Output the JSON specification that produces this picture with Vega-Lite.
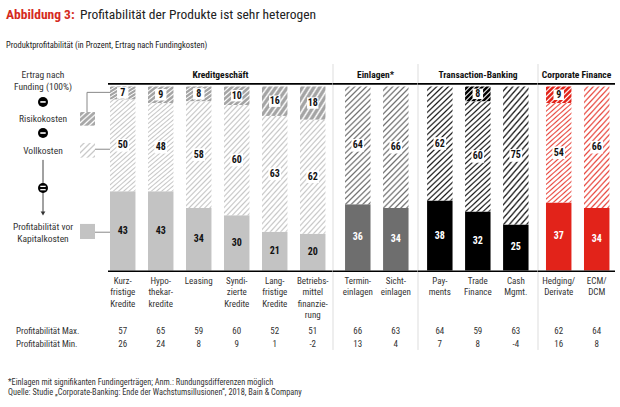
{
 "$schema": "https://vega.github.io/schema/vega-lite/v6.json",
 "padding": 0,
 "spacing": 0,
 "bounds": "flush",
 "background": "white",
 "config": {"view": {"stroke": null}, "font": "Liberation Sans Narrow, Roboto Condensed, Roboto"},
 "datasets": {
  "products": [
   {"group":"Kreditgeschäft","product":"Kurzfristige Kredite","label":"Kurz-|fristige|Kredite","profit":43,"voll":50,"risk":7,"max":57,"min":26},
   {"group":"Kreditgeschäft","product":"Hypothekarkredite","label":"Hypo-|thekar-|kredite","profit":43,"voll":48,"risk":9,"max":65,"min":24},
   {"group":"Kreditgeschäft","product":"Leasing","label":"Leasing","profit":34,"voll":58,"risk":8,"max":59,"min":8},
   {"group":"Kreditgeschäft","product":"Syndizierte Kredite","label":"Syndi-|zierte|Kredite","profit":30,"voll":60,"risk":10,"max":60,"min":9},
   {"group":"Kreditgeschäft","product":"Langfristige Kredite","label":"Lang-|fristige|Kredite","profit":21,"voll":63,"risk":16,"max":52,"min":1},
   {"group":"Kreditgeschäft","product":"Betriebsmittelfinanzierung","label":"Betriebs-|mittel|finanzie-|rung","profit":20,"voll":62,"risk":18,"max":51,"min":-2},
   {"group":"Einlagen","product":"Termineinlagen","label":"Termin-|einlagen","profit":36,"voll":64,"risk":0,"max":66,"min":13},
   {"group":"Einlagen","product":"Sichteinlagen","label":"Sicht-|einlagen","profit":34,"voll":66,"risk":0,"max":63,"min":4},
   {"group":"Transaction-Banking","product":"Payments","label":"Pay-|ments","profit":38,"voll":62,"risk":0,"max":64,"min":7},
   {"group":"Transaction-Banking","product":"Trade Finance","label":"Trade|Finance","profit":32,"voll":60,"risk":8,"max":59,"min":8},
   {"group":"Transaction-Banking","product":"Cash Mgmt.","label":"Cash|Mgmt.","profit":25,"voll":75,"risk":0,"max":63,"min":-4},
   {"group":"Corporate Finance","product":"Hedging/Derivate","label":"Hedging/|Derivate","profit":37,"voll":54,"risk":9,"max":62,"min":16},
   {"group":"Corporate Finance","product":"ECM/DCM","label":"ECM/|DCM","profit":34,"voll":66,"risk":0,"max":64,"min":8}
  ]
 },
 "hconcat": [
  {
   "width": 108, "height": 407,
   "data": {"values": [{}]},
   "layer": [
    {"mark": {"type":"text","text":"Abbildung 3:","align":"left","baseline":"middle","fontSize":13.5,"fontWeight":"bold","fill":"#d52b1e"},
     "encoding": {"x": {"datum": 6, "type":"quantitative","scale":{"domain":[0,108],"nice":false,"zero":false},"axis":null},
                  "y": {"datum": 138.9, "type":"quantitative","scale":{"domain":[-74.2,147],"nice":false,"zero":false},"axis":null}}},
    {"mark": {"type":"text","text":"Profitabilität der Produkte ist sehr heterogen","align":"left","baseline":"middle","fontSize":13.5,"fill":"#222"},
     "encoding": {"x": {"datum": 80, "type":"quantitative","scale":{"domain":[0,108],"nice":false,"zero":false},"axis":null},
                  "y": {"datum": 138.9, "type":"quantitative","scale":{"domain":[-74.2,147],"nice":false,"zero":false},"axis":null}}},
    {"mark": {"type":"text","text":"Produktprofitabilität (in Prozent, Ertrag nach Fundingkosten)","align":"left","baseline":"middle","fontSize":8.5,"fill":"#222"},
     "encoding": {"x": {"datum": 6, "type":"quantitative","scale":{"domain":[0,108],"nice":false,"zero":false},"axis":null},
                  "y": {"datum": 122.6, "type":"quantitative","scale":{"domain":[-74.2,147],"nice":false,"zero":false},"axis":null}}},
    {"mark": {"type":"text","text":["Ertrag nach","Funding (100%)"],"align":"center","baseline":"middle","fontSize":9.5,"lineHeight":12,"fill":"#333"},
     "encoding": {"x": {"datum": 43, "type":"quantitative","scale":{"domain":[0,108],"nice":false,"zero":false},"axis":null},
                  "y": {"datum": 106.3, "type":"quantitative","scale":{"domain":[-74.2,147],"nice":false,"zero":false},"axis":null}}},
    {"mark": {"type":"rule","stroke":"#444","strokeWidth":1},
     "encoding": {"x": {"datum": 43, "type":"quantitative","scale":{"domain":[0,108],"nice":false,"zero":false},"axis":null},
                  "y": {"datum": 60.1, "type":"quantitative","scale":{"domain":[-74.2,147],"nice":false,"zero":false},"axis":null},
                  "y2": {"datum": 31.8}}},
    {"mark": {"type":"point","shape":"triangle-down","filled":true,"fill":"#333","size":22,"opacity":1},
     "encoding": {"x": {"datum": 43, "type":"quantitative","scale":{"domain":[0,108],"nice":false,"zero":false},"axis":null},
                  "y": {"datum": 31.0, "type":"quantitative","scale":{"domain":[-74.2,147],"nice":false,"zero":false},"axis":null}}},
    {"mark": {"type":"point","shape":"circle","filled":true,"fill":"#000","size":100,"opacity":1},
     "encoding": {"x": {"datum": 43, "type":"quantitative","scale":{"domain":[0,108],"nice":false,"zero":false},"axis":null},
                  "y": {"datum": 91.6, "type":"quantitative","scale":{"domain":[-74.2,147],"nice":false,"zero":false},"axis":null}}},
    {"mark": {"type":"point","shape":"circle","filled":true,"fill":"#000","size":100,"opacity":1},
     "encoding": {"x": {"datum": 43, "type":"quantitative","scale":{"domain":[0,108],"nice":false,"zero":false},"axis":null},
                  "y": {"datum": 74.7, "type":"quantitative","scale":{"domain":[-74.2,147],"nice":false,"zero":false},"axis":null}}},
    {"mark": {"type":"point","shape":"circle","filled":true,"fill":"#000","size":100,"opacity":1},
     "encoding": {"x": {"datum": 43, "type":"quantitative","scale":{"domain":[0,108],"nice":false,"zero":false},"axis":null},
                  "y": {"datum": 44.8, "type":"quantitative","scale":{"domain":[-74.2,147],"nice":false,"zero":false},"axis":null}}},
    {"mark": {"type":"rule","stroke":"#fff","strokeWidth":1.6},
     "encoding": {"x": {"datum": 40.3, "type":"quantitative","scale":{"domain":[0,108],"nice":false,"zero":false},"axis":null},
                  "x2": {"datum": 45.7},
                  "y": {"datum": 91.6, "type":"quantitative","scale":{"domain":[-74.2,147],"nice":false,"zero":false},"axis":null}}},
    {"mark": {"type":"rule","stroke":"#fff","strokeWidth":1.6},
     "encoding": {"x": {"datum": 40.3, "type":"quantitative","scale":{"domain":[0,108],"nice":false,"zero":false},"axis":null},
                  "x2": {"datum": 45.7},
                  "y": {"datum": 74.7, "type":"quantitative","scale":{"domain":[-74.2,147],"nice":false,"zero":false},"axis":null}}},
    {"mark": {"type":"rule","stroke":"#fff","strokeWidth":1.3},
     "encoding": {"x": {"datum": 40.3, "type":"quantitative","scale":{"domain":[0,108],"nice":false,"zero":false},"axis":null},
                  "x2": {"datum": 45.7},
                  "y": {"datum": 45.7, "type":"quantitative","scale":{"domain":[-74.2,147],"nice":false,"zero":false},"axis":null}}},
    {"mark": {"type":"rule","stroke":"#fff","strokeWidth":1.3},
     "encoding": {"x": {"datum": 40.3, "type":"quantitative","scale":{"domain":[0,108],"nice":false,"zero":false},"axis":null},
                  "x2": {"datum": 45.7},
                  "y": {"datum": 43.9, "type":"quantitative","scale":{"domain":[-74.2,147],"nice":false,"zero":false},"axis":null}}},
    {"mark": {"type":"text","text":"Risikokosten","align":"center","baseline":"middle","fontSize":9.5,"fill":"#333"},
     "encoding": {"x": {"datum": 43, "type":"quantitative","scale":{"domain":[0,108],"nice":false,"zero":false},"axis":null},
                  "y": {"datum": 82.3, "type":"quantitative","scale":{"domain":[-74.2,147],"nice":false,"zero":false},"axis":null}}},
    {"mark": {"type":"text","text":"Vollkosten","align":"center","baseline":"middle","fontSize":9.5,"fill":"#333"},
     "encoding": {"x": {"datum": 43, "type":"quantitative","scale":{"domain":[0,108],"nice":false,"zero":false},"axis":null},
                  "y": {"datum": 64.9, "type":"quantitative","scale":{"domain":[-74.2,147],"nice":false,"zero":false},"axis":null}}},
    {"mark": {"type":"text","text":["Profitabilität vor","Kapitalkosten"],"align":"center","baseline":"middle","fontSize":9.5,"lineHeight":12,"fill":"#333"},
     "encoding": {"x": {"datum": 43, "type":"quantitative","scale":{"domain":[0,108],"nice":false,"zero":false},"axis":null},
                  "y": {"datum": 23.6, "type":"quantitative","scale":{"domain":[-74.2,147],"nice":false,"zero":false},"axis":null}}},
    {"mark": {"type":"rect","fill":{"gradient":"linear","x1":0,"y1":0,"x2":1,"y2":1,"stops":[
       {"offset":0,"color":"#fff"},{"offset":0.06,"color":"#a8a8a8"},{"offset":0.14,"color":"#a8a8a8"},
       {"offset":0.2,"color":"#fff"},{"offset":0.26,"color":"#a8a8a8"},{"offset":0.34,"color":"#a8a8a8"},
       {"offset":0.4,"color":"#fff"},{"offset":0.46,"color":"#a8a8a8"},{"offset":0.54,"color":"#a8a8a8"},
       {"offset":0.6,"color":"#fff"},{"offset":0.66,"color":"#a8a8a8"},{"offset":0.74,"color":"#a8a8a8"},
       {"offset":0.8,"color":"#fff"},{"offset":0.86,"color":"#a8a8a8"},{"offset":0.94,"color":"#a8a8a8"},
       {"offset":1,"color":"#fff"}]}},
     "encoding": {"x": {"datum": 80, "type":"quantitative","scale":{"domain":[0,108],"nice":false,"zero":false},"axis":null},
                  "x2": {"datum": 95},
                  "y": {"datum": 86.1, "type":"quantitative","scale":{"domain":[-74.2,147],"nice":false,"zero":false},"axis":null},
                  "y2": {"datum": 78.7}}},
    {"mark": {"type":"rect","fill":{"gradient":"linear","x1":0,"y1":0,"x2":1,"y2":1,"stops":[
       {"offset":0,"color":"#fff"},{"offset":0.08,"color":"#fff"},{"offset":0.14,"color":"#c8c8c8"},
       {"offset":0.2,"color":"#fff"},{"offset":0.28,"color":"#fff"},{"offset":0.34,"color":"#c8c8c8"},
       {"offset":0.4,"color":"#fff"},{"offset":0.48,"color":"#fff"},{"offset":0.54,"color":"#c8c8c8"},
       {"offset":0.6,"color":"#fff"},{"offset":0.68,"color":"#fff"},{"offset":0.74,"color":"#c8c8c8"},
       {"offset":0.8,"color":"#fff"},{"offset":0.88,"color":"#fff"},{"offset":0.94,"color":"#c8c8c8"},
       {"offset":1,"color":"#fff"}]}},
     "encoding": {"x": {"datum": 80, "type":"quantitative","scale":{"domain":[0,108],"nice":false,"zero":false},"axis":null},
                  "x2": {"datum": 95},
                  "y": {"datum": 69.3, "type":"quantitative","scale":{"domain":[-74.2,147],"nice":false,"zero":false},"axis":null},
                  "y2": {"datum": 61.3}}},
    {"mark": {"type":"rect","fill":"#c3c3c3"},
     "encoding": {"x": {"datum": 80, "type":"quantitative","scale":{"domain":[0,108],"nice":false,"zero":false},"axis":null},
                  "x2": {"datum": 95},
                  "y": {"datum": 25.3, "type":"quantitative","scale":{"domain":[-74.2,147],"nice":false,"zero":false},"axis":null},
                  "y2": {"datum": 17.1}}},
    {"mark": {"type":"rule","stroke":"#888","strokeWidth":1},
     "encoding": {"x": {"datum": 87, "type":"quantitative","scale":{"domain":[0,108],"nice":false,"zero":false},"axis":null},
                  "y": {"datum": 86.1, "type":"quantitative","scale":{"domain":[-74.2,147],"nice":false,"zero":false},"axis":null},
                  "y2": {"datum": 96.8}}},
    {"mark": {"type":"rule","stroke":"#888","strokeWidth":1},
     "encoding": {"x": {"datum": 87, "type":"quantitative","scale":{"domain":[0,108],"nice":false,"zero":false},"axis":null},
                  "x2": {"datum": 110},
                  "y": {"datum": 96.8, "type":"quantitative","scale":{"domain":[-74.2,147],"nice":false,"zero":false},"axis":null}}},
    {"mark": {"type":"rule","stroke":"#888","strokeWidth":1},
     "encoding": {"x": {"datum": 95, "type":"quantitative","scale":{"domain":[0,108],"nice":false,"zero":false},"axis":null},
                  "x2": {"datum": 110},
                  "y": {"datum": 65.9, "type":"quantitative","scale":{"domain":[-74.2,147],"nice":false,"zero":false},"axis":null}}},
    {"mark": {"type":"rule","stroke":"#888","strokeWidth":1},
     "encoding": {"x": {"datum": 95, "type":"quantitative","scale":{"domain":[0,108],"nice":false,"zero":false},"axis":null},
                  "x2": {"datum": 110},
                  "y": {"datum": 20.8, "type":"quantitative","scale":{"domain":[-74.2,147],"nice":false,"zero":false},"axis":null}}},
    {"mark": {"type":"text","text":"Profitabilität Max.","align":"left","baseline":"middle","fontSize":9,"fill":"#333"},
     "encoding": {"x": {"datum": 16, "type":"quantitative","scale":{"domain":[0,108],"nice":false,"zero":false},"axis":null},
                  "y": {"datum": -32.9, "type":"quantitative","scale":{"domain":[-74.2,147],"nice":false,"zero":false},"axis":null}}},
    {"mark": {"type":"text","text":"Profitabilität Min.","align":"left","baseline":"middle","fontSize":9,"fill":"#333"},
     "encoding": {"x": {"datum": 16, "type":"quantitative","scale":{"domain":[0,108],"nice":false,"zero":false},"axis":null},
                  "y": {"datum": -39.7, "type":"quantitative","scale":{"domain":[-74.2,147],"nice":false,"zero":false},"axis":null}}},
    {"mark": {"type":"text","text":"*Einlagen mit signifikanten Fundingerträgen; Anm.: Rundungsdifferenzen möglich","align":"left","baseline":"middle","fontSize":8.3,"fill":"#333"},
     "encoding": {"x": {"datum": 8, "type":"quantitative","scale":{"domain":[0,108],"nice":false,"zero":false},"axis":null},
                  "y": {"datum": -61.0, "type":"quantitative","scale":{"domain":[-74.2,147],"nice":false,"zero":false},"axis":null}}},
    {"mark": {"type":"text","text":"Quelle: Studie „Corporate-Banking: Ende der Wachstumsillusionen“, 2018, Bain & Company","align":"left","baseline":"middle","fontSize":8.3,"fill":"#333"},
     "encoding": {"x": {"datum": 8, "type":"quantitative","scale":{"domain":[0,108],"nice":false,"zero":false},"axis":null},
                  "y": {"datum": -66.7, "type":"quantitative","scale":{"domain":[-74.2,147],"nice":false,"zero":false},"axis":null}}}
   ]
  },
  {
   "width": 225, "height": 407,
   "layer": [
    {
     "data": {"name": "products"},
     "transform": [
      {"filter": "datum.group === 'Kreditgeschäft'"},
      {"calculate": "datum.profit + datum.voll", "as": "vollTop"},
      {"calculate": "datum.profit + datum.voll + datum.risk", "as": "riskTop"},
      {"calculate": "datum.profit / 2", "as": "profitMid"},
      {"calculate": "datum.profit + datum.voll / 2", "as": "vollMid"},
      {"calculate": "datum.profit + datum.voll + datum.risk / 2", "as": "riskMid"}
     ],
     "encoding": {"x": {"field":"product","type":"nominal","sort":null,"axis":null,"scale":{"paddingInner":0.33,"paddingOuter":0.1255,"align":0.21}}},
     "layer": [
      {"mark": {"type":"bar","fill":"#c3c3c3"},
       "encoding": {"y": {"field":"profit","type":"quantitative","scale":{"domain":[-74.2,147],"nice":false,"zero":false},"axis":null},"y2": {"datum": 0}}},
      {"mark": {"type":"bar","fill":{"gradient":"linear","x1":0,"y1":0,"x2":0.286,"y2":1.174,"stops":[
        {"offset":0,"color":"#fff"},{"offset":0.016,"color":"#fff"},{"offset":0.028,"color":"#c6c6c6"},
        {"offset":0.04,"color":"#fff"},{"offset":0.056,"color":"#fff"},{"offset":0.068,"color":"#c6c6c6"},
        {"offset":0.08,"color":"#fff"},{"offset":0.096,"color":"#fff"},{"offset":0.108,"color":"#c6c6c6"},
        {"offset":0.12,"color":"#fff"},{"offset":0.136,"color":"#fff"},{"offset":0.148,"color":"#c6c6c6"},
        {"offset":0.16,"color":"#fff"},{"offset":0.176,"color":"#fff"},{"offset":0.188,"color":"#c6c6c6"},
        {"offset":0.2,"color":"#fff"},{"offset":0.216,"color":"#fff"},{"offset":0.228,"color":"#c6c6c6"},
        {"offset":0.24,"color":"#fff"},{"offset":0.256,"color":"#fff"},{"offset":0.268,"color":"#c6c6c6"},
        {"offset":0.28,"color":"#fff"},{"offset":0.296,"color":"#fff"},{"offset":0.308,"color":"#c6c6c6"},
        {"offset":0.32,"color":"#fff"},{"offset":0.336,"color":"#fff"},{"offset":0.348,"color":"#c6c6c6"},
        {"offset":0.36,"color":"#fff"},{"offset":0.376,"color":"#fff"},{"offset":0.388,"color":"#c6c6c6"},
        {"offset":0.4,"color":"#fff"},{"offset":0.416,"color":"#fff"},{"offset":0.428,"color":"#c6c6c6"},
        {"offset":0.44,"color":"#fff"},{"offset":0.456,"color":"#fff"},{"offset":0.468,"color":"#c6c6c6"},
        {"offset":0.48,"color":"#fff"},{"offset":0.496,"color":"#fff"},{"offset":0.508,"color":"#c6c6c6"},
        {"offset":0.52,"color":"#fff"},{"offset":0.536,"color":"#fff"},{"offset":0.548,"color":"#c6c6c6"},
        {"offset":0.56,"color":"#fff"},{"offset":0.576,"color":"#fff"},{"offset":0.588,"color":"#c6c6c6"},
        {"offset":0.6,"color":"#fff"},{"offset":0.616,"color":"#fff"},{"offset":0.628,"color":"#c6c6c6"},
        {"offset":0.64,"color":"#fff"},{"offset":0.656,"color":"#fff"},{"offset":0.668,"color":"#c6c6c6"},
        {"offset":0.68,"color":"#fff"},{"offset":0.696,"color":"#fff"},{"offset":0.708,"color":"#c6c6c6"},
        {"offset":0.72,"color":"#fff"},{"offset":0.736,"color":"#fff"},{"offset":0.748,"color":"#c6c6c6"},
        {"offset":0.76,"color":"#fff"},{"offset":0.776,"color":"#fff"},{"offset":0.788,"color":"#c6c6c6"},
        {"offset":0.8,"color":"#fff"},{"offset":0.816,"color":"#fff"},{"offset":0.828,"color":"#c6c6c6"},
        {"offset":0.84,"color":"#fff"},{"offset":0.856,"color":"#fff"},{"offset":0.868,"color":"#c6c6c6"},
        {"offset":0.88,"color":"#fff"},{"offset":0.896,"color":"#fff"},{"offset":0.908,"color":"#c6c6c6"},
        {"offset":0.92,"color":"#fff"},{"offset":0.936,"color":"#fff"},{"offset":0.948,"color":"#c6c6c6"},
        {"offset":0.96,"color":"#fff"},{"offset":0.976,"color":"#fff"},{"offset":0.988,"color":"#c6c6c6"},
        {"offset":1,"color":"#fff"}]}},
       "encoding": {"y": {"field":"vollTop","type":"quantitative","scale":{"domain":[-74.2,147],"nice":false,"zero":false},"axis":null},"y2": {"field":"profit"}}},
      {"mark": {"type":"bar","fill":{"gradient":"linear","x1":0,"y1":0,"x2":1.09,"y2":0.89,"stops":[
        {"offset":0,"color":"#fff"},{"offset":0.0375,"color":"#a4a4a4"},{"offset":0.0875,"color":"#a4a4a4"},
        {"offset":0.125,"color":"#fff"},{"offset":0.1625,"color":"#a4a4a4"},{"offset":0.2125,"color":"#a4a4a4"},
        {"offset":0.25,"color":"#fff"},{"offset":0.2875,"color":"#a4a4a4"},{"offset":0.3375,"color":"#a4a4a4"},
        {"offset":0.375,"color":"#fff"},{"offset":0.4125,"color":"#a4a4a4"},{"offset":0.4625,"color":"#a4a4a4"},
        {"offset":0.5,"color":"#fff"},{"offset":0.5375,"color":"#a4a4a4"},{"offset":0.5875,"color":"#a4a4a4"},
        {"offset":0.625,"color":"#fff"},{"offset":0.6625,"color":"#a4a4a4"},{"offset":0.7125,"color":"#a4a4a4"},
        {"offset":0.75,"color":"#fff"},{"offset":0.7875,"color":"#a4a4a4"},{"offset":0.8375,"color":"#a4a4a4"},
        {"offset":0.875,"color":"#fff"},{"offset":0.9125,"color":"#a4a4a4"},{"offset":0.9625,"color":"#a4a4a4"},
        {"offset":1,"color":"#fff"}]}},
       "encoding": {"y": {"field":"riskTop","type":"quantitative","scale":{"domain":[-74.2,147],"nice":false,"zero":false},"axis":null},"y2": {"field":"vollTop"}}},
      {"mark": {"type":"point","shape":"square","filled":true,"fill":"#fff","size":160,"opacity":1},
       "encoding": {"y": {"field":"vollMid","type":"quantitative","scale":{"domain":[-74.2,147],"nice":false,"zero":false},"axis":null}}},
      {"mark": {"type":"point","shape":"square","filled":true,"fill":"#fff","size":130,"opacity":1},
       "encoding": {"y": {"field":"riskMid","type":"quantitative","scale":{"domain":[-74.2,147],"nice":false,"zero":false},"axis":null},
                    "opacity": {"condition": {"test": "datum.risk > 0", "value": 1}, "value": 0}}},
      {"mark": {"type":"text","fontSize":10,"fontWeight":"bold","fill":"#111","baseline":"middle"},
       "encoding": {"y": {"field":"profitMid","type":"quantitative","scale":{"domain":[-74.2,147],"nice":false,"zero":false},"axis":null},"text": {"field":"profit","type":"nominal"}}},
      {"mark": {"type":"text","fontSize":10,"fontWeight":"bold","fill":"#111","baseline":"middle"},
       "encoding": {"y": {"field":"vollMid","type":"quantitative","scale":{"domain":[-74.2,147],"nice":false,"zero":false},"axis":null},"text": {"field":"voll","type":"nominal"}}},
      {"mark": {"type":"text","fontSize":10,"fontWeight":"bold","fill":"#111","baseline":"middle"},
       "encoding": {"y": {"field":"riskMid","type":"quantitative","scale":{"domain":[-74.2,147],"nice":false,"zero":false},"axis":null},"text": {"field":"risk","type":"nominal"},
                    "opacity": {"condition": {"test": "datum.risk > 0", "value": 1}, "value": 0}}},
      {"mark": {"type":"text","fontSize":9,"fill":"#333","baseline":"top","lineBreak":"|","lineHeight":11.3},
       "encoding": {"y": {"datum": -3.5,"type":"quantitative","scale":{"domain":[-74.2,147],"nice":false,"zero":false},"axis":null},"text": {"field":"label","type":"nominal"}}},
      {"mark": {"type":"text","fontSize":9,"fill":"#333","baseline":"middle"},
       "encoding": {"y": {"datum": -32.9,"type":"quantitative","scale":{"domain":[-74.2,147],"nice":false,"zero":false},"axis":null},"text": {"field":"max","type":"nominal"}}},
      {"mark": {"type":"text","fontSize":9,"fill":"#333","baseline":"middle"},
       "encoding": {"y": {"datum": -39.7,"type":"quantitative","scale":{"domain":[-74.2,147],"nice":false,"zero":false},"axis":null},"text": {"field":"min","type":"nominal"}}}
     ]
    },
    {
     "data": {"values": [{}]},
     "layer": [
      {"mark": {"type":"rule","stroke":"#000","strokeWidth":1.6},
       "encoding": {"y": {"datum": 101.4,"type":"quantitative","scale":{"domain":[-74.2,147],"nice":false,"zero":false},"axis":null}}},
      {"mark": {"type":"rule","stroke":"#000","strokeWidth":1.6},
       "encoding": {"y": {"datum": -0.4,"type":"quantitative","scale":{"domain":[-74.2,147],"nice":false,"zero":false},"axis":null}}},
      {"mark": {"type":"text","text":"Kreditgeschäft","fontSize":9.5,"fontWeight":"bold","fill":"#111","baseline":"middle","align":"center"},
       "encoding": {"x": {"datum": 0.5,"type":"quantitative","scale":{"domain":[0,1],"nice":false,"zero":false},"axis":null},
                    "y": {"datum": 106.3,"type":"quantitative","scale":{"domain":[-74.2,147],"nice":false,"zero":false},"axis":null}}}
     ]
    }
   ],
   "resolve": {"scale": {"x": "independent"}}
  },
  {
   "width": 85, "height": 407,
   "layer": [
    {
     "data": {"name": "products"},
     "transform": [
      {"filter": "datum.group === 'Einlagen'"},
      {"calculate": "datum.profit + datum.voll", "as": "vollTop"},
      {"calculate": "datum.profit / 2", "as": "profitMid"},
      {"calculate": "datum.profit + datum.voll / 2", "as": "vollMid"}
     ],
     "encoding": {"x": {"field":"product","type":"nominal","sort":null,"axis":null,"scale":{"paddingInner":0.33,"paddingOuter":0.283,"align":0.56}}},
     "layer": [
      {"mark": {"type":"bar","fill":"#6e6e6e"},
       "encoding": {"y": {"field":"profit","type":"quantitative","scale":{"domain":[-74.2,147],"nice":false,"zero":false},"axis":null},"y2": {"datum": 0}}},
      {"mark": {"type":"bar","fill":{"gradient":"linear","x1":0,"y1":0,"x2":0.247,"y2":1.16,"stops":[
        {"offset":0,"color":"#fff"},{"offset":0.016,"color":"#fff"},{"offset":0.028,"color":"#707070"},
        {"offset":0.04,"color":"#fff"},{"offset":0.056,"color":"#fff"},{"offset":0.068,"color":"#707070"},
        {"offset":0.08,"color":"#fff"},{"offset":0.096,"color":"#fff"},{"offset":0.108,"color":"#707070"},
        {"offset":0.12,"color":"#fff"},{"offset":0.136,"color":"#fff"},{"offset":0.148,"color":"#707070"},
        {"offset":0.16,"color":"#fff"},{"offset":0.176,"color":"#fff"},{"offset":0.188,"color":"#707070"},
        {"offset":0.2,"color":"#fff"},{"offset":0.216,"color":"#fff"},{"offset":0.228,"color":"#707070"},
        {"offset":0.24,"color":"#fff"},{"offset":0.256,"color":"#fff"},{"offset":0.268,"color":"#707070"},
        {"offset":0.28,"color":"#fff"},{"offset":0.296,"color":"#fff"},{"offset":0.308,"color":"#707070"},
        {"offset":0.32,"color":"#fff"},{"offset":0.336,"color":"#fff"},{"offset":0.348,"color":"#707070"},
        {"offset":0.36,"color":"#fff"},{"offset":0.376,"color":"#fff"},{"offset":0.388,"color":"#707070"},
        {"offset":0.4,"color":"#fff"},{"offset":0.416,"color":"#fff"},{"offset":0.428,"color":"#707070"},
        {"offset":0.44,"color":"#fff"},{"offset":0.456,"color":"#fff"},{"offset":0.468,"color":"#707070"},
        {"offset":0.48,"color":"#fff"},{"offset":0.496,"color":"#fff"},{"offset":0.508,"color":"#707070"},
        {"offset":0.52,"color":"#fff"},{"offset":0.536,"color":"#fff"},{"offset":0.548,"color":"#707070"},
        {"offset":0.56,"color":"#fff"},{"offset":0.576,"color":"#fff"},{"offset":0.588,"color":"#707070"},
        {"offset":0.6,"color":"#fff"},{"offset":0.616,"color":"#fff"},{"offset":0.628,"color":"#707070"},
        {"offset":0.64,"color":"#fff"},{"offset":0.656,"color":"#fff"},{"offset":0.668,"color":"#707070"},
        {"offset":0.68,"color":"#fff"},{"offset":0.696,"color":"#fff"},{"offset":0.708,"color":"#707070"},
        {"offset":0.72,"color":"#fff"},{"offset":0.736,"color":"#fff"},{"offset":0.748,"color":"#707070"},
        {"offset":0.76,"color":"#fff"},{"offset":0.776,"color":"#fff"},{"offset":0.788,"color":"#707070"},
        {"offset":0.8,"color":"#fff"},{"offset":0.816,"color":"#fff"},{"offset":0.828,"color":"#707070"},
        {"offset":0.84,"color":"#fff"},{"offset":0.856,"color":"#fff"},{"offset":0.868,"color":"#707070"},
        {"offset":0.88,"color":"#fff"},{"offset":0.896,"color":"#fff"},{"offset":0.908,"color":"#707070"},
        {"offset":0.92,"color":"#fff"},{"offset":0.936,"color":"#fff"},{"offset":0.948,"color":"#707070"},
        {"offset":0.96,"color":"#fff"},{"offset":0.976,"color":"#fff"},{"offset":0.988,"color":"#707070"},
        {"offset":1,"color":"#fff"}]}},
       "encoding": {"y": {"field":"vollTop","type":"quantitative","scale":{"domain":[-74.2,147],"nice":false,"zero":false},"axis":null},"y2": {"field":"profit"}}},
      {"mark": {"type":"point","shape":"square","filled":true,"fill":"#fff","size":160,"opacity":1},
       "encoding": {"y": {"field":"vollMid","type":"quantitative","scale":{"domain":[-74.2,147],"nice":false,"zero":false},"axis":null}}},
      {"mark": {"type":"text","fontSize":10,"fontWeight":"bold","fill":"#fff","baseline":"middle"},
       "encoding": {"y": {"field":"profitMid","type":"quantitative","scale":{"domain":[-74.2,147],"nice":false,"zero":false},"axis":null},"text": {"field":"profit","type":"nominal"}}},
      {"mark": {"type":"text","fontSize":10,"fontWeight":"bold","fill":"#111","baseline":"middle"},
       "encoding": {"y": {"field":"vollMid","type":"quantitative","scale":{"domain":[-74.2,147],"nice":false,"zero":false},"axis":null},"text": {"field":"voll","type":"nominal"}}},
      {"mark": {"type":"text","fontSize":9,"fill":"#333","baseline":"top","lineBreak":"|","lineHeight":11.3},
       "encoding": {"y": {"datum": -3.5,"type":"quantitative","scale":{"domain":[-74.2,147],"nice":false,"zero":false},"axis":null},"text": {"field":"label","type":"nominal"}}},
      {"mark": {"type":"text","fontSize":9,"fill":"#333","baseline":"middle"},
       "encoding": {"y": {"datum": -32.9,"type":"quantitative","scale":{"domain":[-74.2,147],"nice":false,"zero":false},"axis":null},"text": {"field":"max","type":"nominal"}}},
      {"mark": {"type":"text","fontSize":9,"fill":"#333","baseline":"middle"},
       "encoding": {"y": {"datum": -39.7,"type":"quantitative","scale":{"domain":[-74.2,147],"nice":false,"zero":false},"axis":null},"text": {"field":"min","type":"nominal"}}}
     ]
    },
    {
     "data": {"values": [{}]},
     "layer": [
      {"mark": {"type":"rule","stroke":"#ddd","strokeWidth":1},
       "encoding": {"x": {"datum": 0,"type":"quantitative","scale":{"domain":[0,1],"nice":false,"zero":false},"axis":null},
                    "y": {"datum": 112.2,"type":"quantitative","scale":{"domain":[-74.2,147],"nice":false,"zero":false},"axis":null},
                    "y2": {"datum": -43.2}}},
      {"mark": {"type":"rule","stroke":"#000","strokeWidth":1.6},
       "encoding": {"y": {"datum": 101.4,"type":"quantitative","scale":{"domain":[-74.2,147],"nice":false,"zero":false},"axis":null}}},
      {"mark": {"type":"rule","stroke":"#000","strokeWidth":1.6},
       "encoding": {"y": {"datum": -0.4,"type":"quantitative","scale":{"domain":[-74.2,147],"nice":false,"zero":false},"axis":null}}},
      {"mark": {"type":"text","text":"Einlagen*","fontSize":9.5,"fontWeight":"bold","fill":"#111","baseline":"middle","align":"center"},
       "encoding": {"x": {"datum": 0.5,"type":"quantitative","scale":{"domain":[0,1],"nice":false,"zero":false},"axis":null},
                    "y": {"datum": 106.3,"type":"quantitative","scale":{"domain":[-74.2,147],"nice":false,"zero":false},"axis":null}}}
     ]
    }
   ],
   "resolve": {"scale": {"x": "independent"}}
  },
  {
   "width": 120, "height": 407,
   "layer": [
    {
     "data": {"name": "products"},
     "transform": [
      {"filter": "datum.group === 'Transaction-Banking'"},
      {"calculate": "datum.profit + datum.voll", "as": "vollTop"},
      {"calculate": "datum.profit + datum.voll + datum.risk", "as": "riskTop"},
      {"calculate": "datum.profit / 2", "as": "profitMid"},
      {"calculate": "datum.profit + datum.voll / 2", "as": "vollMid"},
      {"calculate": "datum.profit + datum.voll + datum.risk / 2", "as": "riskMid"}
     ],
     "encoding": {"x": {"field":"product","type":"nominal","sort":null,"axis":null,"scale":{"paddingInner":0.33,"paddingOuter":0.244,"align":0.49}}},
     "layer": [
      {"mark": {"type":"bar","fill":"#000"},
       "encoding": {"y": {"field":"profit","type":"quantitative","scale":{"domain":[-74.2,147],"nice":false,"zero":false},"axis":null},"y2": {"datum": 0}}},
      {"mark": {"type":"bar","fill":{"gradient":"linear","x1":0,"y1":0,"x2":0.247,"y2":1.16,"stops":[
        {"offset":0,"color":"#fff"},{"offset":0.016,"color":"#fff"},{"offset":0.028,"color":"#1a1a1a"},
        {"offset":0.04,"color":"#fff"},{"offset":0.056,"color":"#fff"},{"offset":0.068,"color":"#1a1a1a"},
        {"offset":0.08,"color":"#fff"},{"offset":0.096,"color":"#fff"},{"offset":0.108,"color":"#1a1a1a"},
        {"offset":0.12,"color":"#fff"},{"offset":0.136,"color":"#fff"},{"offset":0.148,"color":"#1a1a1a"},
        {"offset":0.16,"color":"#fff"},{"offset":0.176,"color":"#fff"},{"offset":0.188,"color":"#1a1a1a"},
        {"offset":0.2,"color":"#fff"},{"offset":0.216,"color":"#fff"},{"offset":0.228,"color":"#1a1a1a"},
        {"offset":0.24,"color":"#fff"},{"offset":0.256,"color":"#fff"},{"offset":0.268,"color":"#1a1a1a"},
        {"offset":0.28,"color":"#fff"},{"offset":0.296,"color":"#fff"},{"offset":0.308,"color":"#1a1a1a"},
        {"offset":0.32,"color":"#fff"},{"offset":0.336,"color":"#fff"},{"offset":0.348,"color":"#1a1a1a"},
        {"offset":0.36,"color":"#fff"},{"offset":0.376,"color":"#fff"},{"offset":0.388,"color":"#1a1a1a"},
        {"offset":0.4,"color":"#fff"},{"offset":0.416,"color":"#fff"},{"offset":0.428,"color":"#1a1a1a"},
        {"offset":0.44,"color":"#fff"},{"offset":0.456,"color":"#fff"},{"offset":0.468,"color":"#1a1a1a"},
        {"offset":0.48,"color":"#fff"},{"offset":0.496,"color":"#fff"},{"offset":0.508,"color":"#1a1a1a"},
        {"offset":0.52,"color":"#fff"},{"offset":0.536,"color":"#fff"},{"offset":0.548,"color":"#1a1a1a"},
        {"offset":0.56,"color":"#fff"},{"offset":0.576,"color":"#fff"},{"offset":0.588,"color":"#1a1a1a"},
        {"offset":0.6,"color":"#fff"},{"offset":0.616,"color":"#fff"},{"offset":0.628,"color":"#1a1a1a"},
        {"offset":0.64,"color":"#fff"},{"offset":0.656,"color":"#fff"},{"offset":0.668,"color":"#1a1a1a"},
        {"offset":0.68,"color":"#fff"},{"offset":0.696,"color":"#fff"},{"offset":0.708,"color":"#1a1a1a"},
        {"offset":0.72,"color":"#fff"},{"offset":0.736,"color":"#fff"},{"offset":0.748,"color":"#1a1a1a"},
        {"offset":0.76,"color":"#fff"},{"offset":0.776,"color":"#fff"},{"offset":0.788,"color":"#1a1a1a"},
        {"offset":0.8,"color":"#fff"},{"offset":0.816,"color":"#fff"},{"offset":0.828,"color":"#1a1a1a"},
        {"offset":0.84,"color":"#fff"},{"offset":0.856,"color":"#fff"},{"offset":0.868,"color":"#1a1a1a"},
        {"offset":0.88,"color":"#fff"},{"offset":0.896,"color":"#fff"},{"offset":0.908,"color":"#1a1a1a"},
        {"offset":0.92,"color":"#fff"},{"offset":0.936,"color":"#fff"},{"offset":0.948,"color":"#1a1a1a"},
        {"offset":0.96,"color":"#fff"},{"offset":0.976,"color":"#fff"},{"offset":0.988,"color":"#1a1a1a"},
        {"offset":1,"color":"#fff"}]}},
       "encoding": {"y": {"field":"vollTop","type":"quantitative","scale":{"domain":[-74.2,147],"nice":false,"zero":false},"axis":null},"y2": {"field":"profit"}}},
      {"mark": {"type":"bar","fill":{"gradient":"linear","x1":0,"y1":0,"x2":1.18,"y2":0.686,"stops":[
        {"offset":0,"color":"#fff"},{"offset":0.0375,"color":"#000"},{"offset":0.0875,"color":"#000"},
        {"offset":0.125,"color":"#fff"},{"offset":0.1625,"color":"#000"},{"offset":0.2125,"color":"#000"},
        {"offset":0.25,"color":"#fff"},{"offset":0.2875,"color":"#000"},{"offset":0.3375,"color":"#000"},
        {"offset":0.375,"color":"#fff"},{"offset":0.4125,"color":"#000"},{"offset":0.4625,"color":"#000"},
        {"offset":0.5,"color":"#fff"},{"offset":0.5375,"color":"#000"},{"offset":0.5875,"color":"#000"},
        {"offset":0.625,"color":"#fff"},{"offset":0.6625,"color":"#000"},{"offset":0.7125,"color":"#000"},
        {"offset":0.75,"color":"#fff"},{"offset":0.7875,"color":"#000"},{"offset":0.8375,"color":"#000"},
        {"offset":0.875,"color":"#fff"},{"offset":0.9125,"color":"#000"},{"offset":0.9625,"color":"#000"},
        {"offset":1,"color":"#fff"}]}},
       "encoding": {"y": {"field":"riskTop","type":"quantitative","scale":{"domain":[-74.2,147],"nice":false,"zero":false},"axis":null},"y2": {"field":"vollTop"}}},
      {"mark": {"type":"point","shape":"square","filled":true,"fill":"#fff","size":160,"opacity":1},
       "encoding": {"y": {"field":"vollMid","type":"quantitative","scale":{"domain":[-74.2,147],"nice":false,"zero":false},"axis":null}}},
      {"mark": {"type":"point","shape":"square","filled":true,"fill":"#fff","size":110,"opacity":1},
       "encoding": {"y": {"field":"riskMid","type":"quantitative","scale":{"domain":[-74.2,147],"nice":false,"zero":false},"axis":null},
                    "opacity": {"condition": {"test": "datum.risk > 0", "value": 1}, "value": 0}}},
      {"mark": {"type":"text","fontSize":10,"fontWeight":"bold","fill":"#fff","baseline":"middle"},
       "encoding": {"y": {"field":"profitMid","type":"quantitative","scale":{"domain":[-74.2,147],"nice":false,"zero":false},"axis":null},"text": {"field":"profit","type":"nominal"}}},
      {"mark": {"type":"text","fontSize":10,"fontWeight":"bold","fill":"#111","baseline":"middle"},
       "encoding": {"y": {"field":"vollMid","type":"quantitative","scale":{"domain":[-74.2,147],"nice":false,"zero":false},"axis":null},"text": {"field":"voll","type":"nominal"}}},
      {"mark": {"type":"text","fontSize":10,"fontWeight":"bold","fill":"#111","baseline":"middle"},
       "encoding": {"y": {"field":"riskMid","type":"quantitative","scale":{"domain":[-74.2,147],"nice":false,"zero":false},"axis":null},"text": {"field":"risk","type":"nominal"},
                    "opacity": {"condition": {"test": "datum.risk > 0", "value": 1}, "value": 0}}},
      {"mark": {"type":"text","fontSize":9,"fill":"#333","baseline":"top","lineBreak":"|","lineHeight":11.3},
       "encoding": {"y": {"datum": -3.5,"type":"quantitative","scale":{"domain":[-74.2,147],"nice":false,"zero":false},"axis":null},"text": {"field":"label","type":"nominal"}}},
      {"mark": {"type":"text","fontSize":9,"fill":"#333","baseline":"middle"},
       "encoding": {"y": {"datum": -32.9,"type":"quantitative","scale":{"domain":[-74.2,147],"nice":false,"zero":false},"axis":null},"text": {"field":"max","type":"nominal"}}},
      {"mark": {"type":"text","fontSize":9,"fill":"#333","baseline":"middle"},
       "encoding": {"y": {"datum": -39.7,"type":"quantitative","scale":{"domain":[-74.2,147],"nice":false,"zero":false},"axis":null},"text": {"field":"min","type":"nominal"}}}
     ]
    },
    {
     "data": {"values": [{}]},
     "layer": [
      {"mark": {"type":"rule","stroke":"#ddd","strokeWidth":1},
       "encoding": {"x": {"datum": 0,"type":"quantitative","scale":{"domain":[0,1],"nice":false,"zero":false},"axis":null},
                    "y": {"datum": 112.2,"type":"quantitative","scale":{"domain":[-74.2,147],"nice":false,"zero":false},"axis":null},
                    "y2": {"datum": -43.2}}},
      {"mark": {"type":"rule","stroke":"#000","strokeWidth":1.6},
       "encoding": {"y": {"datum": 101.4,"type":"quantitative","scale":{"domain":[-74.2,147],"nice":false,"zero":false},"axis":null}}},
      {"mark": {"type":"rule","stroke":"#000","strokeWidth":1.6},
       "encoding": {"y": {"datum": -0.4,"type":"quantitative","scale":{"domain":[-74.2,147],"nice":false,"zero":false},"axis":null}}},
      {"mark": {"type":"text","text":"Transaction-Banking","fontSize":9.5,"fontWeight":"bold","fill":"#111","baseline":"middle","align":"center"},
       "encoding": {"x": {"datum": 0.5,"type":"quantitative","scale":{"domain":[0,1],"nice":false,"zero":false},"axis":null},
                    "y": {"datum": 106.3,"type":"quantitative","scale":{"domain":[-74.2,147],"nice":false,"zero":false},"axis":null}}}
     ]
    }
   ],
   "resolve": {"scale": {"x": "independent"}}
  },
  {
   "width": 77, "height": 407,
   "layer": [
    {
     "data": {"name": "products"},
     "transform": [
      {"filter": "datum.group === 'Corporate Finance'"},
      {"calculate": "datum.profit + datum.voll", "as": "vollTop"},
      {"calculate": "datum.profit + datum.voll + datum.risk", "as": "riskTop"},
      {"calculate": "datum.profit / 2", "as": "profitMid"},
      {"calculate": "datum.profit + datum.voll / 2", "as": "vollMid"},
      {"calculate": "datum.profit + datum.voll + datum.risk / 2", "as": "riskMid"}
     ],
     "encoding": {"x": {"field":"product","type":"nominal","sort":null,"axis":null,"scale":{"paddingInner":0.33,"paddingOuter":0.178,"align":0.59}}},
     "layer": [
      {"mark": {"type":"bar","fill":"#e2231a"},
       "encoding": {"y": {"field":"profit","type":"quantitative","scale":{"domain":[-74.2,147],"nice":false,"zero":false},"axis":null},"y2": {"datum": 0}}},
      {"mark": {"type":"bar","fill":{"gradient":"linear","x1":0,"y1":0,"x2":0.265,"y2":1.167,"stops":[
        {"offset":0,"color":"#fff"},{"offset":0.016,"color":"#fff"},{"offset":0.028,"color":"#e8483f"},
        {"offset":0.04,"color":"#fff"},{"offset":0.056,"color":"#fff"},{"offset":0.068,"color":"#e8483f"},
        {"offset":0.08,"color":"#fff"},{"offset":0.096,"color":"#fff"},{"offset":0.108,"color":"#e8483f"},
        {"offset":0.12,"color":"#fff"},{"offset":0.136,"color":"#fff"},{"offset":0.148,"color":"#e8483f"},
        {"offset":0.16,"color":"#fff"},{"offset":0.176,"color":"#fff"},{"offset":0.188,"color":"#e8483f"},
        {"offset":0.2,"color":"#fff"},{"offset":0.216,"color":"#fff"},{"offset":0.228,"color":"#e8483f"},
        {"offset":0.24,"color":"#fff"},{"offset":0.256,"color":"#fff"},{"offset":0.268,"color":"#e8483f"},
        {"offset":0.28,"color":"#fff"},{"offset":0.296,"color":"#fff"},{"offset":0.308,"color":"#e8483f"},
        {"offset":0.32,"color":"#fff"},{"offset":0.336,"color":"#fff"},{"offset":0.348,"color":"#e8483f"},
        {"offset":0.36,"color":"#fff"},{"offset":0.376,"color":"#fff"},{"offset":0.388,"color":"#e8483f"},
        {"offset":0.4,"color":"#fff"},{"offset":0.416,"color":"#fff"},{"offset":0.428,"color":"#e8483f"},
        {"offset":0.44,"color":"#fff"},{"offset":0.456,"color":"#fff"},{"offset":0.468,"color":"#e8483f"},
        {"offset":0.48,"color":"#fff"},{"offset":0.496,"color":"#fff"},{"offset":0.508,"color":"#e8483f"},
        {"offset":0.52,"color":"#fff"},{"offset":0.536,"color":"#fff"},{"offset":0.548,"color":"#e8483f"},
        {"offset":0.56,"color":"#fff"},{"offset":0.576,"color":"#fff"},{"offset":0.588,"color":"#e8483f"},
        {"offset":0.6,"color":"#fff"},{"offset":0.616,"color":"#fff"},{"offset":0.628,"color":"#e8483f"},
        {"offset":0.64,"color":"#fff"},{"offset":0.656,"color":"#fff"},{"offset":0.668,"color":"#e8483f"},
        {"offset":0.68,"color":"#fff"},{"offset":0.696,"color":"#fff"},{"offset":0.708,"color":"#e8483f"},
        {"offset":0.72,"color":"#fff"},{"offset":0.736,"color":"#fff"},{"offset":0.748,"color":"#e8483f"},
        {"offset":0.76,"color":"#fff"},{"offset":0.776,"color":"#fff"},{"offset":0.788,"color":"#e8483f"},
        {"offset":0.8,"color":"#fff"},{"offset":0.816,"color":"#fff"},{"offset":0.828,"color":"#e8483f"},
        {"offset":0.84,"color":"#fff"},{"offset":0.856,"color":"#fff"},{"offset":0.868,"color":"#e8483f"},
        {"offset":0.88,"color":"#fff"},{"offset":0.896,"color":"#fff"},{"offset":0.908,"color":"#e8483f"},
        {"offset":0.92,"color":"#fff"},{"offset":0.936,"color":"#fff"},{"offset":0.948,"color":"#e8483f"},
        {"offset":0.96,"color":"#fff"},{"offset":0.976,"color":"#fff"},{"offset":0.988,"color":"#e8483f"},
        {"offset":1,"color":"#fff"}]}},
       "encoding": {"y": {"field":"vollTop","type":"quantitative","scale":{"domain":[-74.2,147],"nice":false,"zero":false},"axis":null},"y2": {"field":"profit"}}},
      {"mark": {"type":"bar","fill":{"gradient":"linear","x1":0,"y1":0,"x2":1.156,"y2":0.763,"stops":[
        {"offset":0,"color":"#fff"},{"offset":0.0375,"color":"#e2231a"},{"offset":0.0875,"color":"#e2231a"},
        {"offset":0.125,"color":"#fff"},{"offset":0.1625,"color":"#e2231a"},{"offset":0.2125,"color":"#e2231a"},
        {"offset":0.25,"color":"#fff"},{"offset":0.2875,"color":"#e2231a"},{"offset":0.3375,"color":"#e2231a"},
        {"offset":0.375,"color":"#fff"},{"offset":0.4125,"color":"#e2231a"},{"offset":0.4625,"color":"#e2231a"},
        {"offset":0.5,"color":"#fff"},{"offset":0.5375,"color":"#e2231a"},{"offset":0.5875,"color":"#e2231a"},
        {"offset":0.625,"color":"#fff"},{"offset":0.6625,"color":"#e2231a"},{"offset":0.7125,"color":"#e2231a"},
        {"offset":0.75,"color":"#fff"},{"offset":0.7875,"color":"#e2231a"},{"offset":0.8375,"color":"#e2231a"},
        {"offset":0.875,"color":"#fff"},{"offset":0.9125,"color":"#e2231a"},{"offset":0.9625,"color":"#e2231a"},
        {"offset":1,"color":"#fff"}]}},
       "encoding": {"y": {"field":"riskTop","type":"quantitative","scale":{"domain":[-74.2,147],"nice":false,"zero":false},"axis":null},"y2": {"field":"vollTop"}}},
      {"mark": {"type":"point","shape":"square","filled":true,"fill":"#fff","size":160,"opacity":1},
       "encoding": {"y": {"field":"vollMid","type":"quantitative","scale":{"domain":[-74.2,147],"nice":false,"zero":false},"axis":null}}},
      {"mark": {"type":"point","shape":"square","filled":true,"fill":"#fff","size":110,"opacity":1},
       "encoding": {"y": {"field":"riskMid","type":"quantitative","scale":{"domain":[-74.2,147],"nice":false,"zero":false},"axis":null},
                    "opacity": {"condition": {"test": "datum.risk > 0", "value": 1}, "value": 0}}},
      {"mark": {"type":"text","fontSize":10,"fontWeight":"bold","fill":"#fff","baseline":"middle"},
       "encoding": {"y": {"field":"profitMid","type":"quantitative","scale":{"domain":[-74.2,147],"nice":false,"zero":false},"axis":null},"text": {"field":"profit","type":"nominal"}}},
      {"mark": {"type":"text","fontSize":10,"fontWeight":"bold","fill":"#111","baseline":"middle"},
       "encoding": {"y": {"field":"vollMid","type":"quantitative","scale":{"domain":[-74.2,147],"nice":false,"zero":false},"axis":null},"text": {"field":"voll","type":"nominal"}}},
      {"mark": {"type":"text","fontSize":10,"fontWeight":"bold","fill":"#111","baseline":"middle"},
       "encoding": {"y": {"field":"riskMid","type":"quantitative","scale":{"domain":[-74.2,147],"nice":false,"zero":false},"axis":null},"text": {"field":"risk","type":"nominal"},
                    "opacity": {"condition": {"test": "datum.risk > 0", "value": 1}, "value": 0}}},
      {"mark": {"type":"text","fontSize":9,"fill":"#333","baseline":"top","lineBreak":"|","lineHeight":11.3},
       "encoding": {"y": {"datum": -3.5,"type":"quantitative","scale":{"domain":[-74.2,147],"nice":false,"zero":false},"axis":null},"text": {"field":"label","type":"nominal"}}},
      {"mark": {"type":"text","fontSize":9,"fill":"#333","baseline":"middle"},
       "encoding": {"y": {"datum": -32.9,"type":"quantitative","scale":{"domain":[-74.2,147],"nice":false,"zero":false},"axis":null},"text": {"field":"max","type":"nominal"}}},
      {"mark": {"type":"text","fontSize":9,"fill":"#333","baseline":"middle"},
       "encoding": {"y": {"datum": -39.7,"type":"quantitative","scale":{"domain":[-74.2,147],"nice":false,"zero":false},"axis":null},"text": {"field":"min","type":"nominal"}}}
     ]
    },
    {
     "data": {"values": [{}]},
     "layer": [
      {"mark": {"type":"rule","stroke":"#ddd","strokeWidth":1},
       "encoding": {"x": {"datum": 0,"type":"quantitative","scale":{"domain":[0,1],"nice":false,"zero":false},"axis":null},
                    "y": {"datum": 112.2,"type":"quantitative","scale":{"domain":[-74.2,147],"nice":false,"zero":false},"axis":null},
                    "y2": {"datum": -43.2}}},
      {"mark": {"type":"rule","stroke":"#000","strokeWidth":1.6},
       "encoding": {"y": {"datum": 101.4,"type":"quantitative","scale":{"domain":[-74.2,147],"nice":false,"zero":false},"axis":null}}},
      {"mark": {"type":"rule","stroke":"#000","strokeWidth":1.6},
       "encoding": {"y": {"datum": -0.4,"type":"quantitative","scale":{"domain":[-74.2,147],"nice":false,"zero":false},"axis":null}}},
      {"mark": {"type":"text","text":"Corporate Finance","fontSize":9.5,"fontWeight":"bold","fill":"#111","baseline":"middle","align":"center"},
       "encoding": {"x": {"datum": 0.5,"type":"quantitative","scale":{"domain":[0,1],"nice":false,"zero":false},"axis":null},
                    "y": {"datum": 106.3,"type":"quantitative","scale":{"domain":[-74.2,147],"nice":false,"zero":false},"axis":null}}}
     ]
    }
   ],
   "resolve": {"scale": {"x": "independent"}}
  }
 ]
}
